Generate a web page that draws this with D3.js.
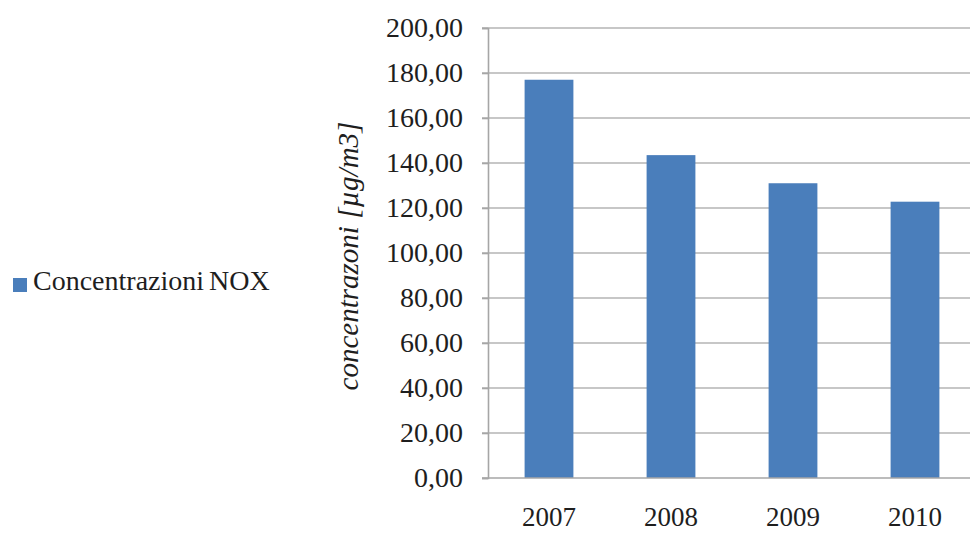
<!DOCTYPE html>
<html>
<head>
<meta charset="utf-8">
<script src="https://cdn.jsdelivr.net/npm/d3@7"></script>
<style>
  html, body { margin: 0; padding: 0; background: #fff; }
  svg { display: block; }
  text { font-family: "Liberation Serif", "Times New Roman", serif; fill: #1e1e1e; }
</style>
</head>
<body>
<svg id="chart" width="970" height="534"></svg>
<script>
// Annual NOX concentrations
const years = ["2007", "2008", "2009", "2010"];
const nox = [177.0, 143.5, 131.0, 122.8];
const yTicks = [0, 20, 40, 60, 80, 100, 120, 140, 160, 180, 200];
const seriesName = "Concentrazioni NOX";
const yTitle = "concentrazoni [\u00b5g/m3]";

const svg = d3.select("#chart");
const plot = { left: 488, right: 976, top: 28, bottom: 478 };

const x = d3.scaleBand()
  .domain(years)
  .range([plot.left, plot.right])
  .paddingInner(0.6)
  .paddingOuter(0.3);

const y = d3.scaleLinear()
  .domain([0, 200])
  .range([plot.bottom, plot.top]);

const fmt = v => d3.format(".2f")(v).replace(".", ",");

// horizontal gridlines
svg.append("g")
  .selectAll("line")
  .data(yTicks.filter(t => t > 0))
  .join("line")
  .attr("x1", plot.left - 6)
  .attr("x2", 970)
  .attr("y1", d => y(d))
  .attr("y2", d => y(d))
  .attr("stroke", "#b4b4b4")
  .attr("stroke-width", 1.6);

// bars
svg.append("g")
  .selectAll("rect")
  .data(years.map((yr, i) => ({ yr, v: nox[i] })))
  .join("rect")
  .attr("x", d => x(d.yr))
  .attr("width", x.bandwidth())
  .attr("y", d => y(d.v))
  .attr("height", d => y(0) - y(d.v))
  .attr("fill", "#4a7ebb");

// y axis
const yAxis = svg.append("g")
  .attr("transform", `translate(${plot.left},0)`)
  .call(d3.axisLeft(y).tickValues(yTicks).tickFormat(fmt).tickSize(6).tickPadding(19));
yAxis.select(".domain").attr("stroke", "#a6a6a6").attr("stroke-width", 1.6);
yAxis.selectAll(".tick line").attr("stroke", "#a6a6a6").attr("stroke-width", 1.6);
yAxis.selectAll(".tick text")
  .attr("font-family", "Liberation Serif, serif")
  .attr("font-size", 28)
  .attr("fill", "#1e1e1e");

// x axis
const xAxis = svg.append("g")
  .attr("transform", `translate(0,${plot.bottom})`)
  .call(d3.axisBottom(x).tickSize(0).tickPadding(29));
xAxis.select(".domain")
  .attr("d", `M${plot.left - 6},0H970`)
  .attr("stroke", "#a6a6a6").attr("stroke-width", 1.6);
xAxis.selectAll(".tick text")
  .attr("font-family", "Liberation Serif, serif")
  .attr("font-size", 27)
  .attr("fill", "#1e1e1e");

// y axis title
svg.append("text")
  .attr("transform", "translate(358,256) rotate(-90)")
  .attr("text-anchor", "middle")
  .attr("font-style", "italic")
  .attr("font-size", 29)
  .text(yTitle);

// legend
const legend = svg.append("g").attr("transform", "translate(13,278)");
legend.append("rect")
  .attr("width", 14).attr("height", 14)
  .attr("fill", "#4a7ebb");
legend.append("text")
  .attr("x", 20)
  .attr("y", 12)
  .attr("font-size", 28)
  .attr("word-spacing", -2)
  .text(seriesName);
</script>
</body>
</html>
